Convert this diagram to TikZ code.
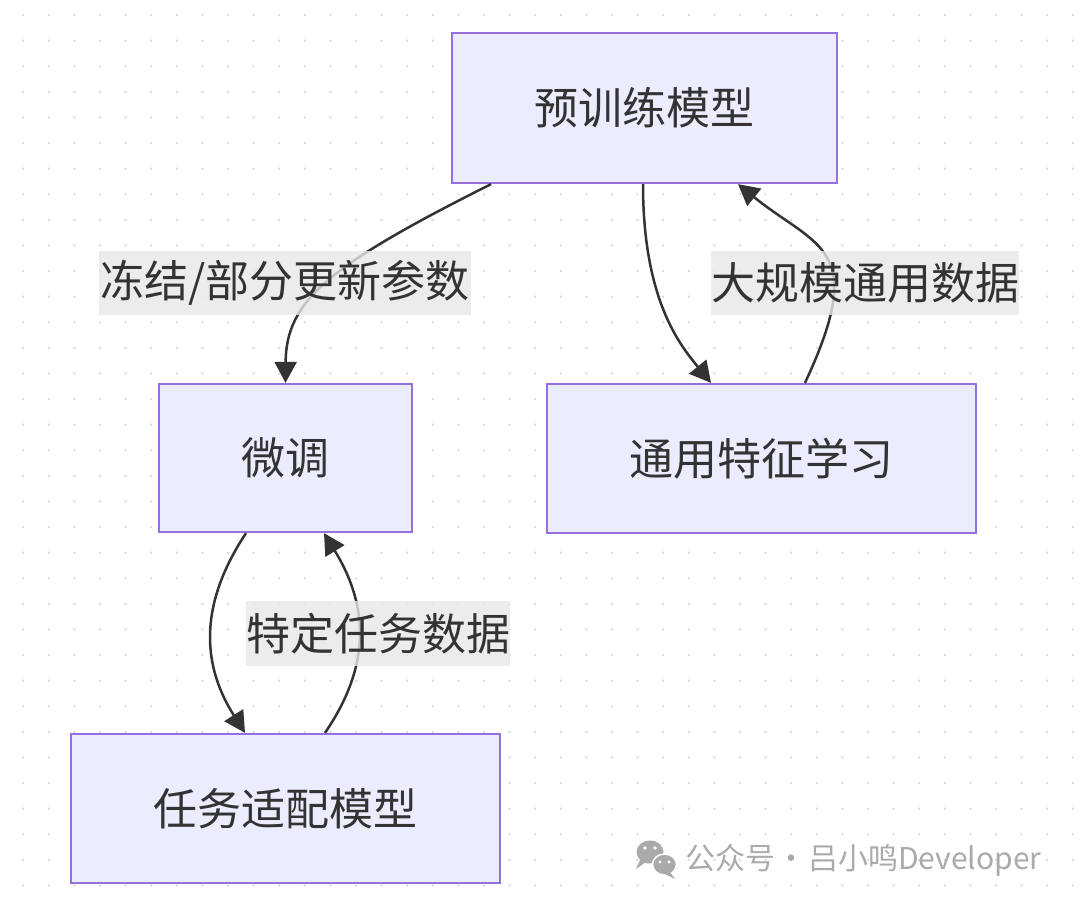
\documentclass[tikz,border=0pt]{standalone}
\usepackage{fontspec}
\setmainfont{Noto Sans CJK SC}
\usetikzlibrary{arrows.meta,calc}
\definecolor{nodefill}{HTML}{ECECFF}
\definecolor{nodeline}{HTML}{9370DB}
\definecolor{ink}{HTML}{333333}
\definecolor{lblbg}{HTML}{E8E8E8}
\definecolor{dotc}{HTML}{D9D9D9}
\definecolor{wm}{HTML}{AAAAAA}
\begin{document}
\begin{tikzpicture}[x=1pt,y=-1pt,
  box/.style={draw=nodeline,line width=2.3pt,fill=nodefill,inner sep=0pt,text=ink,font=\fontsize{44}{44}\selectfont},
  lbl/.style={fill=lblbg,fill opacity=0.8,text opacity=1,inner sep=0pt,text=ink,font=\fontsize{44}{44}\selectfont,minimum height=64pt},
  link/.style={draw=ink,line width=2.5pt,-{Triangle[length=21pt,width=22pt]}}]
\useasboundingbox (0,0) rectangle (1080,905);
\fill[white] (0,0) rectangle (1080,905);
\foreach \i in {0,...,41} {\foreach \j in {0,...,34} {\fill[dotc] (23.2+25.6*\i, 15.1+25.6*\j) circle (1.3pt);}}
% nodes
\node[box,minimum width=385pt,minimum height=150pt] (pre) at (644.5,108) {预训练模型};
\node[box,minimum width=253pt,minimum height=148pt] (ft) at (285.5,458) {微调};
\node[box,minimum width=429pt,minimum height=149pt] (gen) at (761.5,458.5) {通用特征学习};
\node[box,minimum width=429pt,minimum height=149pt] (task) at (285.5,808.5) {任务适配模型};
% edges
\draw[link] ([xshift=-153.5pt]pre.south) .. controls (330,265) and (286,300) .. (ft.north);
\draw[link] ([xshift=-1.5pt]pre.south) .. controls (643,300) and (680,345) .. ([xshift=-50.5pt]gen.north);
\draw[link] ([xshift=43.5pt]gen.north) .. controls (869,246) and (817,248) .. ([xshift=93.5pt]pre.south);
\draw[link] ([xshift=-39.5pt]ft.south) .. controls (195,610) and (205,670) .. ([xshift=-40.5pt]task.north);
\draw[link] ([xshift=39.5pt]task.north) .. controls (375,660) and (365,600) .. ([xshift=38.5pt]ft.south);
% labels
\node[lbl,minimum width=372pt] (l1) at (285,283) {冻结/部分更新参数};
\node[lbl,minimum width=306pt] (l2) at (865,283) {大规模通用数据};
\node[lbl,minimum width=262pt,minimum height=65pt] (l3) at (378,633.5) {特定任务数据};
% watermark
\fill[wm] (650,852) ellipse (13.5pt and 11.5pt);
\fill[wm] (640,860) -- (636,869) -- (646,862) -- cycle;
\fill[white] (645,848) circle (1.9pt);
\fill[white] (655,848) circle (1.9pt);
\fill[wm,draw=white,line width=1.5pt] (664.5,864.5) ellipse (12pt and 10.5pt);
\fill[wm] (670,872) -- (675,879) -- (665,874) -- cycle;
\fill[white] (660,862) circle (1.6pt);
\fill[white] (669,862) circle (1.6pt);
\node[anchor=west,text=wm,font=\fontsize{30}{30}\selectfont,inner sep=0pt] (wmtext) at (685,860) {公众号\kern1.5pt·\kern1.5pt吕小鸣Developer};
\end{tikzpicture}
\end{document}
